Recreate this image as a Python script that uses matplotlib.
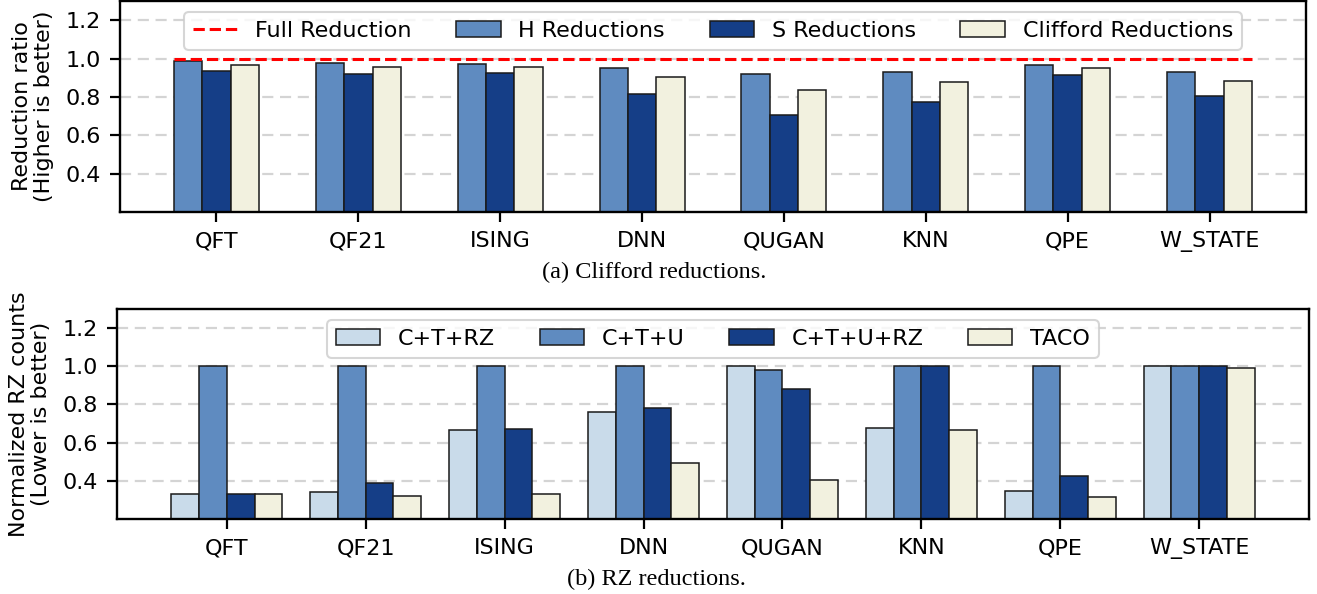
import matplotlib
matplotlib.use("Agg")
import matplotlib.pyplot as plt
import numpy as np

categories = ["QFT", "QF21", "ISING", "DNN", "QUGAN", "KNN", "QPE", "W_STATE"]

# Panel (a): Clifford reductions (higher is better)
h_red = [0.986, 0.977, 0.972, 0.953, 0.918, 0.932, 0.967, 0.930]
s_red = [0.934, 0.918, 0.925, 0.814, 0.704, 0.774, 0.915, 0.807]
cliff_red = [0.967, 0.957, 0.957, 0.904, 0.837, 0.878, 0.950, 0.885]
full_reduction = 1.0

# Panel (b): normalized RZ counts (lower is better)
ct_rz = [0.330, 0.341, 0.666, 0.760, 1.000, 0.675, 0.346, 1.000]
ct_u = [1.000, 1.000, 1.000, 1.000, 0.981, 1.000, 1.000, 1.000]
ct_u_rz = [0.330, 0.391, 0.670, 0.781, 0.882, 1.000, 0.424, 1.000]
taco = [0.330, 0.319, 0.330, 0.492, 0.402, 0.666, 0.315, 0.993]

C_LIGHT = "#c9dbea"
C_MID = "#5f8bc0"
C_DARK = "#153e87"
C_CREAM = "#f2f1df"
EDGE = "#1a1a1a"

plt.rcParams['font.family'] = ['DejaVu Sans']
fig = plt.figure(figsize=(13.17, 5.94), dpi=100)

W, H = 1317, 594
def ax_rect(l, r, t, b):
    return [l / W, 1 - b / H, (r - l) / W, (b - t) / H]

ax1 = fig.add_axes(ax_rect(120, 1306, 1, 212))
ax2 = fig.add_axes(ax_rect(117, 1309, 309, 519))

x = np.arange(len(categories))
bw = 0.2
fs = 16
blw = 1.1

def style(ax):
    ax.set_ylim(0.2, 1.3)
    ax.set_yticks([0.4, 0.6, 0.8, 1.0, 1.2])
    ax.set_xticks(x)
    ax.set_xticklabels(categories, fontsize=fs)
    ax.tick_params(axis='both', labelsize=fs, width=1.6, length=7, pad=7)
    ax.grid(axis='y', linestyle='--', color='#d4d4d4', linewidth=1.6, dashes=(5, 3))
    ax.set_axisbelow(True)
    for sp in ax.spines.values():
        sp.set_linewidth(1.7)

def legend(ax):
    leg = ax.legend(loc='upper center', ncol=4, fontsize=fs, handlelength=2.0,
                    columnspacing=2.0, borderaxespad=0.5)
    leg.get_frame().set_linewidth(1.5)

ax1.plot([x[0] - 1.5 * bw, x[-1] + 1.5 * bw], [full_reduction, full_reduction],
         color='red', linestyle='--', linewidth=2.2, label='Full Reduction', zorder=3)
ax1.bar(x - bw, h_red, bw, color=C_MID, edgecolor=EDGE, linewidth=blw, label='H Reductions', zorder=2)
ax1.bar(x, s_red, bw, color=C_DARK, edgecolor=EDGE, linewidth=blw, label='S Reductions', zorder=2)
ax1.bar(x + bw, cliff_red, bw, color=C_CREAM, edgecolor=EDGE, linewidth=blw, label='Clifford Reductions', zorder=2)
style(ax1)
ax1.set_ylabel("Reduction ratio\n(Higher is better)", fontsize=fs, linespacing=1.15, labelpad=8)
legend(ax1)

ax2.bar(x - 1.5 * bw, ct_rz, bw, color=C_LIGHT, edgecolor=EDGE, linewidth=blw, label='C+T+RZ', zorder=2)
ax2.bar(x - 0.5 * bw, ct_u, bw, color=C_MID, edgecolor=EDGE, linewidth=blw, label='C+T+U', zorder=2)
ax2.bar(x + 0.5 * bw, ct_u_rz, bw, color=C_DARK, edgecolor=EDGE, linewidth=blw, label='C+T+U+RZ', zorder=2)
ax2.bar(x + 1.5 * bw, taco, bw, color=C_CREAM, edgecolor=EDGE, linewidth=blw, label='TACO', zorder=2)
style(ax2)
ax2.set_ylabel("Normalized RZ counts\n(Lower is better)", fontsize=fs, linespacing=1.15, labelpad=8)
legend(ax2)

fig.text(654 / W, 1 - 272 / H, "(a) Clifford reductions.", ha='center', va='center',
         fontsize=17.5, family=['Liberation Serif'])
fig.text(656 / W, 1 - 579 / H, "(b) RZ reductions.", ha='center', va='center',
         fontsize=17.5, family=['Liberation Serif'])

fig.savefig("out.png", dpi=100)
